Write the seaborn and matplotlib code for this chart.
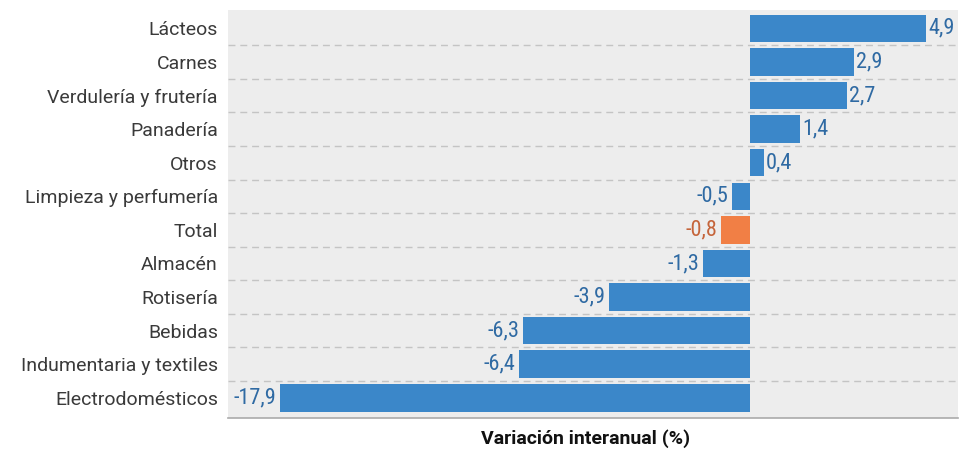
import numpy as np
import pandas as pd
import seaborn as sns
import matplotlib.pyplot as plt
from matplotlib import font_manager

categorias = ["Lácteos", "Carnes", "Verdulería y frutería", "Panadería", "Otros",
              "Limpieza y perfumería", "Total", "Almacén", "Rotisería", "Bebidas",
              "Indumentaria y textiles", "Electrodomésticos"]
variacion = [4.9, 2.9, 2.7, 1.4, 0.4, -0.5, -0.8, -1.3, -3.9, -6.3, -6.4, -17.9]

azul = "#3b87c9"
naranja = "#f17f45"
texto_azul = "#2f6aa3"
texto_naranja = "#c5643a"

disponibles = {f.name for f in font_manager.fontManager.ttflist}
narrow = next((f for f in ["Roboto Condensed", "Liberation Sans Narrow", "DejaVu Sans Condensed"]
               if f in disponibles), "DejaVu Sans")

df = pd.DataFrame({"categoria": categorias, "variacion": variacion})
# la barra de Electrodomésticos va recortada en el gráfico original
df["largo"] = df["variacion"].clip(lower=-13.05)
df["grupo"] = np.where(df["categoria"] == "Total", "total", "rubro")

sns.set_style("white")
plt.rcParams["font.family"] = ["Roboto", "DejaVu Sans"]

fig = plt.figure(figsize=(9.73, 4.49), dpi=100)
ax = fig.add_axes([0.234, 0.069, 0.751, 0.909])
ax.set_facecolor("#ededed")

sns.barplot(data=df, x="largo", y="categoria", hue="grupo",
            palette={"rubro": azul, "total": naranja}, orient="h",
            width=0.82, dodge=False, legend=False, ax=ax, saturation=1,
            linewidth=0)

for i, v in enumerate(df["variacion"]):
    largo = df["largo"].iloc[i]
    color = texto_naranja if categorias[i] == "Total" else texto_azul
    txt = f"{v:.1f}".replace(".", ",")
    ax.text(largo + (0.06 if v > 0 else -0.1), i, txt,
            ha="left" if v > 0 else "right", va="center",
            fontsize=16, color=color, family=[narrow, "DejaVu Sans"])

for k in range(len(categorias) - 1):
    ax.axhline(k + 0.5, color="#c4c4c4", lw=1, ls=(0, (5, 3.5)), zorder=0)

ax.set_xlim(-14.5, 5.8)
ax.set_ylim(len(categorias) - 0.4, -0.55)
ax.set_xticks([])
ax.set_ylabel("")
ax.set_xlabel("Variación interanual (%)", fontsize=14, fontweight="bold",
              color="#111111", labelpad=8)
ax.xaxis.label.set_x(0.49)
ax.tick_params(axis="y", length=0, pad=7, labelsize=14, labelcolor="#3a3a3a")
for s in ["top", "right", "left"]:
    ax.spines[s].set_visible(False)
ax.spines["bottom"].set_color("#aaaaaa")
ax.spines["bottom"].set_linewidth(1.2)

fig.savefig("out.png", dpi=100)
